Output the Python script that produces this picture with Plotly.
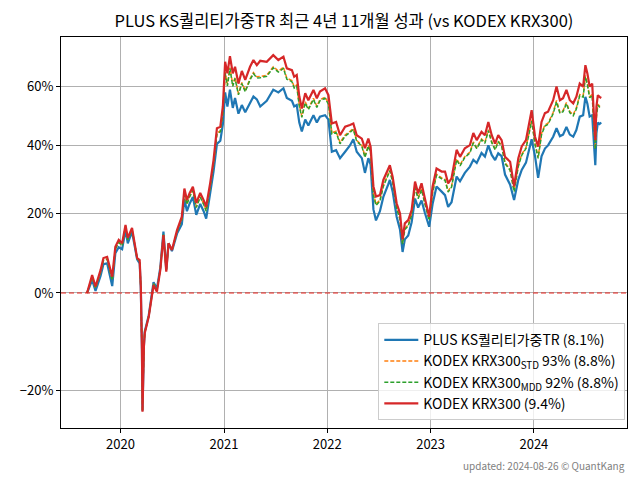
import plotly.graph_objects as go

dates = [
    "2019-09-05", "2019-09-23", "2019-10-05", "2019-10-23", "2019-11-02", "2019-11-15", "2019-12-03",
    "2019-12-14", "2019-12-26", "2020-01-07", "2020-01-19", "2020-01-27", "2020-02-11", "2020-02-19",
    "2020-02-29", "2020-03-09", "2020-03-13", "2020-03-17", "2020-03-19", "2020-03-24", "2020-03-27",
    "2020-04-10", "2020-04-18", "2020-04-27", "2020-05-09", "2020-05-21", "2020-06-01", "2020-06-11",
    "2020-06-19", "2020-07-01", "2020-07-19", "2020-08-05", "2020-08-14", "2020-08-23", "2020-09-01",
    "2020-09-13", "2020-09-25", "2020-10-09", "2020-10-21", "2020-10-30", "2020-11-13", "2020-11-25",
    "2020-12-07", "2020-12-19", "2020-12-28", "2021-01-05", "2021-01-13", "2021-01-22", "2021-02-01",
    "2021-02-09", "2021-02-21", "2021-03-05", "2021-03-17", "2021-04-03", "2021-04-15", "2021-04-27",
    "2021-05-09", "2021-06-01", "2021-06-24", "2021-07-12", "2021-07-30", "2021-08-11", "2021-08-29",
    "2021-09-06", "2021-09-15", "2021-09-24", "2021-10-03", "2021-10-15", "2021-10-26", "2021-11-13",
    "2021-11-25", "2021-12-06", "2021-12-24", "2022-01-05", "2022-01-17", "2022-02-01", "2022-02-15",
    "2022-03-05", "2022-03-22", "2022-04-03", "2022-04-15", "2022-05-03", "2022-05-14", "2022-05-26",
    "2022-06-03", "2022-06-13", "2022-06-22", "2022-07-06", "2022-07-18", "2022-08-04", "2022-08-10",
    "2022-08-20", "2022-09-03", "2022-09-15", "2022-09-24", "2022-10-02", "2022-10-14", "2022-10-26",
    "2022-11-07", "2022-11-18", "2022-11-30", "2022-12-12", "2022-12-27", "2023-01-08", "2023-01-22",
    "2023-02-09", "2023-02-21", "2023-03-04", "2023-03-16", "2023-04-03", "2023-04-15", "2023-05-02",
    "2023-05-20", "2023-06-01", "2023-06-13", "2023-06-30", "2023-07-12", "2023-07-24", "2023-08-05",
    "2023-08-17", "2023-08-28", "2023-09-09", "2023-09-21", "2023-10-09", "2023-10-23", "2023-11-07",
    "2023-11-19", "2023-12-04", "2023-12-18", "2023-12-24", "2024-01-05", "2024-01-16", "2024-01-28",
    "2024-02-09", "2024-02-20", "2024-03-09", "2024-03-21", "2024-04-02", "2024-04-13", "2024-04-25",
    "2024-05-07", "2024-05-19", "2024-05-30", "2024-06-11", "2024-06-23", "2024-07-01", "2024-07-08",
    "2024-07-16", "2024-07-25", "2024-08-05", "2024-08-09", "2024-08-14", "2024-08-20", "2024-08-26",
]

# cumulative returns in %
krx300 = [
    0.0, 4.2, 1.5, 5.4, 8.3, 8.6, 3.8, 11.1, 12.9, 12.0, 16.8, 13.4, 16.0, 12.9,
    8.3, 7.8, 1.4, -12.0, -23.7, -11.5, -8.7, -5.3, -2.3, 1.8, 0.3, 5.4, 14.1, 5.0,
    12.0, 10.3, 15.4, 19.0, 26.9, 23.6, 25.5, 27.4, 22.8, 25.6, 23.6, 21.8, 28.4, 35.4,
    45.6, 46.1, 53.1, 69.4, 65.0, 71.6, 65.0, 67.5, 61.2, 65.9, 62.6, 67.5, 70.1, 68.1,
    69.8, 69.4, 72.0, 70.1, 71.4, 66.9, 66.2, 63.7, 64.4, 56.6, 52.3, 57.7, 55.2, 58.9,
    55.9, 58.3, 59.5, 57.0, 47.2, 47.7, 43.3, 46.1, 46.7, 47.2, 43.3, 42.2, 39.1, 42.2,
    39.6, 27.5, 24.6, 25.0, 29.4, 32.8, 33.8, 30.3, 22.7, 19.9, 13.0, 17.2, 18.1, 20.8,
    28.9, 25.5, 28.4, 24.0, 19.0, 27.5, 32.8, 31.9, 31.9, 28.4, 29.9, 38.6, 36.4, 39.1,
    40.1, 44.0, 41.7, 44.4, 43.3, 47.7, 43.3, 40.6, 43.3, 41.7, 36.4, 34.9, 27.5, 36.0,
    39.7, 41.7, 49.5, 51.7, 42.8, 39.6, 47.7, 50.7, 51.2, 55.2, 60.1, 55.2, 55.9, 58.9,
    55.2, 54.1, 56.4, 61.2, 60.1, 68.1, 65.0, 60.1, 61.2, 41.7, 53.0, 57.0, 56.4, 56.0,
]

plus_quality = [
    0.0, 3.0, 0.5, 4.0, 6.8, 7.0, 1.6, 9.5, 11.0, 10.5, 15.5, 12.0, 15.0, 12.0,
    8.0, 7.0, 1.0, -12.0, -23.5, -11.2, -8.4, -5.0, -2.0, 2.5, 1.0, 6.0, 15.0, 5.5,
    12.0, 10.0, 14.5, 17.0, 24.0, 20.5, 22.5, 24.5, 19.5, 22.5, 20.5, 18.5, 25.5, 32.0,
    40.5, 41.5, 47.0, 58.0, 53.0, 59.0, 52.5, 56.0, 50.5, 53.5, 51.0, 54.5, 56.5, 55.5,
    53.0, 55.0, 59.0, 58.0, 59.5, 56.0, 55.0, 53.0, 53.5, 47.5, 44.5, 48.5, 46.5, 50.0,
    47.5, 49.5, 50.0, 48.5, 38.0, 38.5, 36.0, 38.0, 40.0, 42.0, 38.0, 36.0, 31.5, 36.0,
    34.0, 21.0, 18.0, 20.5, 24.5, 28.0, 29.4, 26.0, 19.0, 15.5, 9.8, 13.0, 14.0, 17.5,
    24.0, 21.5, 23.5, 20.0, 16.3, 22.5, 27.5, 26.0, 25.0, 21.7, 23.0, 30.4, 29.0, 31.5,
    33.4, 35.5, 34.5, 37.6, 36.5, 40.0, 37.0, 35.4, 37.5, 36.6, 31.0, 28.0, 23.6, 29.5,
    32.4, 34.6, 40.0, 42.0, 36.6, 30.0, 36.6, 39.0, 40.0, 42.8, 45.6, 43.0, 43.5, 46.0,
    43.5, 42.8, 45.0, 49.5, 50.0, 56.4, 54.0, 49.5, 50.0, 33.8, 44.0, 47.5, 47.0, 47.5,
]

krx300_mdd = [
    0.0, 3.7, 1.1, 4.9, 7.7, 8.0, 3.0, 10.5, 12.2, 11.4, 16.3, 12.9, 15.6, 12.6,
    8.2, 7.5, 1.2, -12.0, -23.6, -11.4, -8.6, -5.2, -2.2, 2.1, 0.6, 5.6, 14.4, 5.2,
    12.0, 10.2, 15.0, 18.2, 25.8, 22.4, 24.4, 26.3, 21.5, 24.4, 22.4, 20.5, 27.3, 34.1,
    43.7, 44.4, 50.8, 65.1, 60.4, 66.8, 60.2, 63.1, 57.1, 61.2, 58.2, 62.6, 64.9, 63.3,
    63.4, 63.9, 67.1, 65.5, 66.9, 62.8, 61.9, 59.6, 60.3, 53.1, 49.3, 54.2, 51.9, 55.5,
    52.7, 55.0, 55.9, 53.8, 43.7, 44.2, 40.5, 43.0, 44.2, 45.2, 41.3, 39.8, 36.2, 39.8,
    37.5, 25.0, 22.1, 23.3, 27.5, 31.0, 32.1, 28.7, 21.3, 18.2, 11.8, 15.6, 16.5, 19.5,
    27.0, 24.0, 26.5, 22.5, 18.0, 25.6, 30.8, 29.7, 29.3, 25.9, 27.3, 35.5, 33.6, 36.2,
    37.6, 40.8, 39.0, 41.8, 40.7, 44.8, 40.9, 38.6, 41.1, 39.8, 34.3, 32.3, 26.0, 33.5,
    36.9, 39.0, 45.9, 48.0, 40.4, 35.9, 43.5, 46.3, 46.9, 50.5, 54.6, 50.6, 51.2, 54.0,
    50.8, 49.8, 52.1, 56.8, 56.3, 63.7, 60.8, 56.1, 56.9, 38.7, 49.6, 53.4, 52.8, 52.8,
]

krx300_std = [
    0.0, 3.7, 1.1, 4.9, 7.8, 8.1, 3.1, 10.6, 12.3, 11.5, 16.4, 13.0, 15.7, 12.7,
    8.2, 7.5, 1.2, -12.0, -23.6, -11.4, -8.6, -5.2, -2.2, 2.1, 0.6, 5.6, 14.4, 5.2,
    12.0, 10.2, 15.1, 18.4, 26.0, 22.6, 24.6, 26.5, 21.7, 24.6, 22.6, 20.7, 27.5, 34.3,
    44.0, 44.7, 51.1, 65.5, 60.8, 67.2, 60.6, 63.5, 57.5, 61.6, 58.6, 63.0, 65.3, 63.7,
    63.8, 64.3, 67.5, 65.9, 67.3, 63.2, 62.3, 60.0, 60.7, 53.5, 49.6, 54.6, 52.3, 55.9,
    53.1, 55.4, 56.3, 54.2, 44.1, 44.6, 40.9, 43.4, 44.6, 45.5, 41.6, 40.1, 36.6, 40.1,
    37.8, 25.4, 22.5, 23.6, 27.8, 31.3, 32.4, 29.0, 21.6, 18.5, 12.1, 15.9, 16.8, 19.8,
    27.3, 24.3, 26.8, 22.8, 18.3, 25.9, 31.1, 30.0, 29.6, 26.2, 27.6, 35.8, 33.9, 36.5,
    37.9, 41.1, 39.3, 42.1, 41.0, 45.1, 41.2, 38.9, 41.4, 40.1, 34.6, 32.6, 26.3, 33.8,
    37.2, 39.3, 46.3, 48.4, 40.7, 36.3, 43.9, 46.7, 47.3, 50.9, 55.1, 51.0, 51.6, 54.4,
    51.2, 50.2, 52.5, 57.2, 56.7, 64.2, 61.3, 56.5, 57.3, 39.0, 50.0, 53.8, 53.2, 53.2,
]

series_names = [
    "PLUS KS퀄리티가중TR (8.1%)",
    "KODEX KRX300<sub>STD</sub> 93% (8.8%)",
    "KODEX KRX300<sub>MDD</sub> 92% (8.8%)",
    "KODEX KRX300 (9.4%)",
]
y_tick_vals = [-20, 0, 20, 40, 60]
y_tick_text = ["−20%", "0%", "20%", "40%", "60%"]
x_tick_vals = ["2020-01-01", "2021-01-01", "2022-01-01", "2023-01-01", "2024-01-01"]
x_tick_text = ["2020", "2021", "2022", "2023", "2024"]


def growth(values):
    return [1 + v / 100.0 for v in values]


FONT = "Noto Sans CJK KR, Noto Sans, DejaVu Sans, sans-serif"

fig = go.Figure()
fig.add_trace(go.Scatter(x=dates, y=growth(plus_quality), mode="lines", name=series_names[0],
                         line=dict(color="#1f77b4", width=2.2)))
fig.add_trace(go.Scatter(x=dates, y=growth(krx300_std), mode="lines", name=series_names[1],
                         line=dict(color="#ff7f0e", width=1.5, dash="4px,2px")))
fig.add_trace(go.Scatter(x=dates, y=growth(krx300_mdd), mode="lines", name=series_names[2],
                         line=dict(color="#2ca02c", width=1.5, dash="4px,2px")))
fig.add_trace(go.Scatter(x=dates, y=growth(krx300), mode="lines", name=series_names[3],
                         line=dict(color="#d62728", width=2.2)))

fig.add_shape(type="line", xref="paper", x0=0, x1=1, yref="y", y0=1, y1=1,
              line=dict(color="#e8211c", width=1, dash="5px,3px"), layer="above")

fig.update_layout(
    width=640, height=480,
    margin=dict(l=61, r=13, t=37, b=52),
    paper_bgcolor="white", plot_bgcolor="white",
    font=dict(family=FONT, size=13, color="black"),
    title=dict(text="PLUS KS퀄리티가중TR 최근 4년 11개월 성과 (vs KODEX KRX300)",
               x=0.5375, xanchor="center", y=0.955, yanchor="middle",
               font=dict(size=16.5, family=FONT)),
    showlegend=True,
    legend=dict(x=0.997, xanchor="right", y=0.02, yanchor="bottom",
                bgcolor="rgba(255,255,255,0.8)", bordercolor="#cccccc", borderwidth=1,
                font=dict(size=14, family=FONT), tracegroupgap=0, itemwidth=34),
    annotations=[dict(text="updated: 2024-08-26 © QuantKang", xref="paper", yref="paper",
                      x=1.0, y=-0.095, xanchor="right", yanchor="middle", showarrow=False,
                      font=dict(size=10, color="#808080", family=FONT))],
)

fig.update_xaxes(
    type="date", range=["2019-06-05", "2024-11-25"],
    tickvals=x_tick_vals, ticktext=x_tick_text,
    showgrid=True, gridcolor="#b0b0b0", gridwidth=1,
    showline=True, linecolor="black", linewidth=1, mirror=True,
    ticks="outside", ticklen=4, tickcolor="black", zeroline=False,
)
fig.update_yaxes(
    type="log", range=[-0.1337, 0.2535],
    tickvals=growth(y_tick_vals), ticktext=y_tick_text,
    showgrid=True, gridcolor="#b0b0b0", gridwidth=1,
    showline=True, linecolor="black", linewidth=1, mirror=True,
    ticks="outside", ticklen=4, tickcolor="black", zeroline=False,
)

fig.write_html("out.html", config={"displayModeBar": False},
               post_script="document.body.style.margin='0';")
